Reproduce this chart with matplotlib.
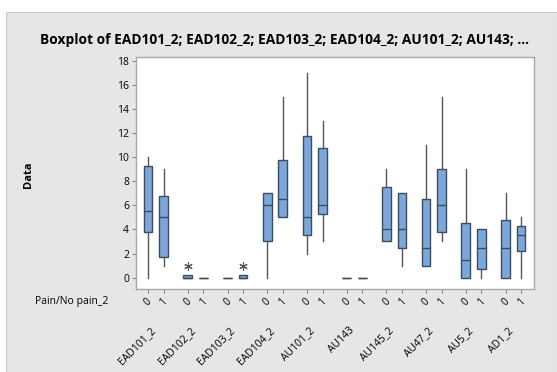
import matplotlib
matplotlib.use("Agg")
import matplotlib.pyplot as plt
from matplotlib.patches import Rectangle
from matplotlib.transforms import blended_transform_factory

plt.rcParams["font.family"] = ["Open Sans", "DejaVu Sans"]

# Variables and the two pain groups shown for each
variables = ["EAD101_2", "EAD102_2", "EAD103_2", "EAD104_2", "AU101_2",
             "AU143", "AU145_2", "AU47_2", "AU5_2", "AD1_2"]
groups = ["0", "1"]

# Box statistics, one entry per box (variable x group, in order)
whis_lo = [0, 1, 0, 0, 0, 0, 0, 5, 2, 3, 0, 0, 3, 1, 1, 3, 0, 0, 0, 0]
q1 = [3.75, 1.75, 0, 0, 0, 0, 3, 5, 3.5, 5.25, 0, 0, 3, 2.5, 1, 3.75, 0, 0.75, 0, 2.25]
medians = [5.5, 5, 0, 0, 0, 0, 6, 6.5, 5, 6, 0, 0, 4, 4, 2.5, 6, 1.5, 2.5, 2.5, 3.5]
q3 = [9.25, 6.75, 0.25, 0, 0, 0.25, 7, 9.75, 11.75, 10.75, 0, 0, 7.5, 7, 6.5, 9, 4.5, 4, 4.75, 4.25]
whis_hi = [10, 9, 0.25, 0, 0, 0.25, 7, 15, 17, 13, 0, 0, 9, 7, 11, 15, 9, 4, 7, 5]
outliers = [[], [], [1], [], [], [1], [], [], [], [], [], [], [], [], [], [], [], [], [], []]

BG = "#E6E6E6"
BOX = "#7BA7DB"
EDGE = "#3F4C5C"
LINE = "#555555"

fig = plt.figure(figsize=(5.57, 3.72), dpi=100, facecolor="white")
fig.patches.append(Rectangle((6 / 557, 0), 1 - 6 / 557, 1 - 12 / 372,
                             transform=fig.transFigure, facecolor=BG,
                             edgecolor="#C8C8C8", lw=0.8, zorder=-10))

ax = fig.add_axes([136 / 557, 1 - 289 / 372, 398 / 557, 232 / 372])
ax.set_facecolor("white")

offset = 0.196
positions = []
for i in range(len(variables)):
    positions += [i - offset, i + offset]

stats = []
for k in range(len(positions)):
    stats.append({
        "whislo": whis_lo[k], "q1": q1[k], "med": medians[k],
        "q3": q3[k], "whishi": whis_hi[k], "fliers": outliers[k],
    })

ax.bxp(stats, positions=positions, widths=0.22, patch_artist=True,
       showcaps=False,
       boxprops=dict(facecolor=BOX, edgecolor=EDGE, lw=1.0),
       medianprops=dict(color=EDGE, lw=1.0),
       whiskerprops=dict(color=LINE, lw=1.0),
       flierprops=dict(marker=(6, 2, 0), markersize=6, markeredgecolor=LINE,
                       markeredgewidth=0.8, linestyle="none"))

ax.set_xlim(-0.5, 9.52)
ax.set_ylim(-0.94, 18.3)
ax.set_yticks(range(0, 19, 2))
ax.tick_params(axis="y", labelsize=7.5, length=3, color="#888888", pad=2)

ax.set_xticks(positions)
ax.set_xticklabels(groups * len(variables), rotation=45, ha="center",
                   rotation_mode="default")
ax.tick_params(axis="x", labelsize=7.5, length=3, color="#888888", pad=2)

for s in ax.spines.values():
    s.set_color("#A8A8A8")
    s.set_linewidth(1.0)

# Variable names under each pair of boxes
trans = blended_transform_factory(ax.transData, ax.transAxes)
for i, name in enumerate(variables):
    ax.text(i + 0.05, -0.155, name, transform=trans, rotation=45,
            ha="right", va="top", fontsize=7.5)

ax.text(-0.07, -0.052, "Pain/No pain_2", transform=ax.transAxes,
        ha="right", va="center", fontsize=7.5)

fig.text(28 / 557, 1 - 175 / 372, "Data", rotation=90, ha="center",
         va="center", fontsize=8, fontweight="bold")
fig.text(284 / 557, 1 - 40 / 372,
         "Boxplot of EAD101_2; EAD102_2; EAD103_2; EAD104_2; AU101_2; AU143; ...",
         ha="center", va="center", fontsize=9.9, fontweight="bold")

fig.savefig("out.png", dpi=100, facecolor=fig.get_facecolor())
